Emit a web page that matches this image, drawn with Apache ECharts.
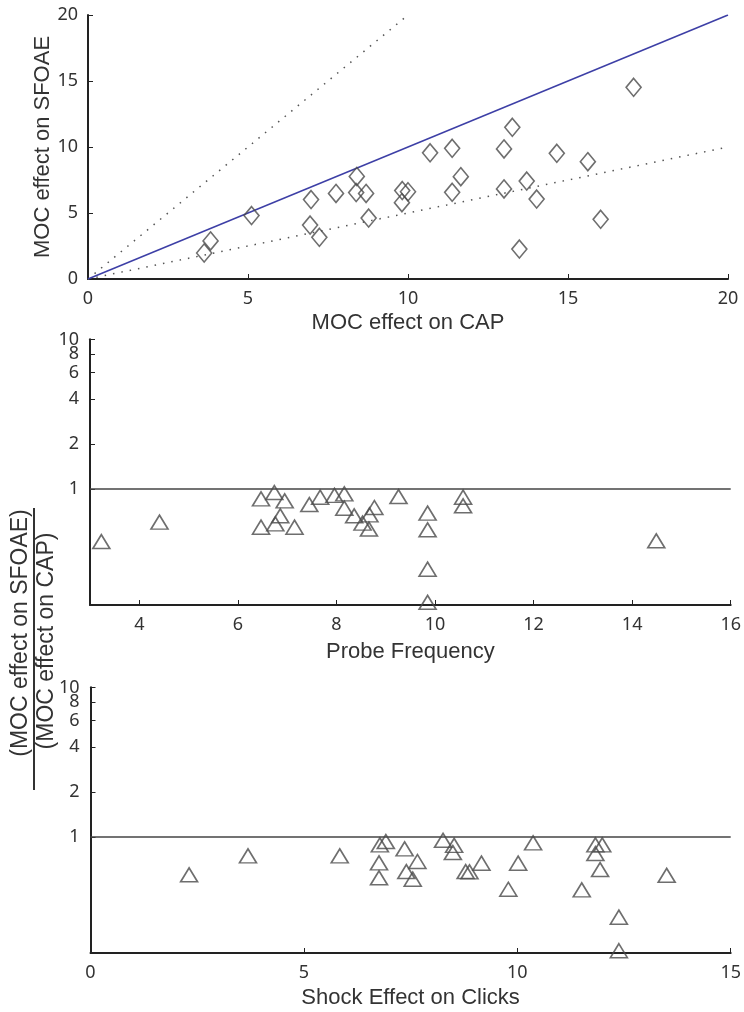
<!DOCTYPE html>
<html>
<head>
<meta charset="utf-8">
<script src="https://cdn.jsdelivr.net/npm/echarts@6/dist/echarts.min.js"></script>
<style>
  html, body { margin: 0; padding: 0; background: #fff; }
  #chart { width: 744px; height: 1012px; }
</style>
</head>
<body>
<div id="chart"></div>
<script>
// Panel A: MOC effect on CAP (x) against MOC effect on SFOAE (y), one point per ear
const capEffect = [3.63, 3.83, 5.11, 6.97, 6.94, 7.23, 7.75, 8.40, 8.38, 8.69, 8.77, 9.82, 10.0, 9.81,
  10.69, 11.38, 11.38, 11.65, 13.0, 13.26, 13.0, 13.71, 14.02, 13.48, 14.65, 15.62, 16.02, 17.05];
const sfoaeEffect = [1.97, 2.88, 4.81, 6.02, 4.09, 3.16, 6.48, 7.77, 6.55, 6.48, 4.62, 6.70, 6.61, 5.78,
  9.56, 9.90, 6.57, 7.75, 9.85, 11.49, 6.82, 7.42, 6.06, 2.27, 9.52, 8.89, 4.52, 14.52];

// Panel B: SFOAE/CAP ratio against probe frequency
const probeFreq = [3.23, 4.41, 6.47, 6.74, 6.95, 6.86, 6.47, 6.76, 7.15, 7.45, 7.67, 7.96, 8.16, 8.16,
  8.36, 8.53, 8.66, 8.67, 8.77, 9.26, 9.85, 9.85, 9.85, 9.85, 10.57, 10.57, 14.49];
const probeRatio = [0.444, 0.599, 0.857, 0.945, 0.831, 0.660, 0.554, 0.583, 0.554, 0.785, 0.880, 0.905, 0.926, 0.743,
  0.660, 0.590, 0.538, 0.670, 0.750, 0.888, 0.688, 0.532, 0.290, 0.174, 0.880, 0.770, 0.449];

// Panel C: SFOAE/CAP ratio against shock effect on clicks
const shockEffect = [2.31, 3.69, 5.84, 6.78, 6.92, 6.76, 6.76, 7.36, 7.66, 7.40, 7.55, 8.26, 8.52, 8.49,
  8.79, 8.88, 9.16, 9.79, 10.02, 10.37, 11.83, 11.99, 11.83, 11.94, 11.51, 12.38, 12.38, 13.50];
const shockRatio = [0.557, 0.746, 0.746, 0.884, 0.930, 0.670, 0.532, 0.831, 0.684, 0.586, 0.521, 0.948, 0.877, 0.785,
  0.586, 0.583, 0.667, 0.446, 0.667, 0.912, 0.884, 0.884, 0.773, 0.604, 0.442, 0.290, 0.173, 0.553];

// Reference lines in panel A: equality and factor-of-two bounds
const equalLine = [[0, 0], [20, 20]];
const doubleLine = [[0, 0], [10, 20]];
const halfLine = [[0, 0], [20, 10]];

// Tick labels
const ratioTicks = [1, 2, 4, 6, 8, 10];
const freqTicks = [4, 6, 8, 10, 12, 14, 16];
const ratioMin = 0.167;
const ratioMax = 10.03;
const unityRatio = 1;

// the top ratio label crowds the one below it, so it is drawn by a companion axis
const ratioTop = ratioTicks[ratioTicks.length - 1];
const ratioLower = ratioTicks.slice(0, -1);

const zip = (a, b) => a.map((v, i) => [v, b[i]]);

const AX = '#222';
const TICK_FONT = { fontFamily: 'Noto Sans', fontSize: 18, color: '#333' };
const NAME_FONT = { fontFamily: 'Liberation Sans', fontSize: 22, color: '#333' };

function tickStyle(values) {
  const t = { show: true, inside: true, length: 5, lineStyle: { color: AX, width: 1 } };
  if (values) t.customValues = values;
  return t;
}
function labelStyle(margin, values) {
  const l = Object.assign({ margin: margin, showMaxLabel: true, showMinLabel: true, hideOverlap: false }, TICK_FONT);
  if (values) l.customValues = values;
  return l;
}
function axisBase(extra) {
  return Object.assign({
    axisLine: { show: true, onZero: false, lineStyle: { color: AX, width: 2 } },
    axisTick: tickStyle(),
    splitLine: { show: false },
    axisLabel: labelStyle(11),
    nameMoveOverlap: false,
    nameTextStyle: NAME_FONT
  }, extra);
}
function ratioAxis(gridIndex, values, showLine) {
  return axisBase({ gridIndex: gridIndex, type: 'log', logBase: 10, min: ratioMin, max: ratioMax,
    position: 'left', offset: 0,
    axisLine: { show: showLine, onZero: false, lineStyle: { color: AX, width: 2 } },
    axisLabel: labelStyle(11, values), axisTick: tickStyle(values) });
}

const diamondStyle = { color: 'rgba(0,0,0,0)', borderColor: '#4a4a4a', borderWidth: 1.6 };
const triStyle = { color: 'rgba(0,0,0,0)', borderColor: '#4a4a4a', borderWidth: 1.6 };

const chart = echarts.init(document.getElementById('chart'), null, { renderer: 'canvas' });

chart.setOption({
  animation: false,
  backgroundColor: '#fff',
  grid: [
    { left: 88, top: 15, width: 640, height: 264 },
    { left: 90, top: 339.3, width: 641, height: 265.7 },
    { left: 90.5, top: 687.3, width: 642, height: 265.7 }
  ],
  xAxis: [
    axisBase({ gridIndex: 0, type: 'value', min: 0, max: 20, interval: 5,
      name: 'MOC effect on CAP', nameLocation: 'middle', nameGap: 33 }),
    axisBase({ gridIndex: 1, type: 'value', min: 3, max: 16,
      axisLabel: labelStyle(11, freqTicks), axisTick: tickStyle(freqTicks),
      name: 'Probe Frequency', nameLocation: 'middle', nameGap: 36 }),
    axisBase({ gridIndex: 2, type: 'value', min: 0, max: 15, interval: 5,
      name: 'Shock Effect on Clicks', nameLocation: 'middle', nameGap: 34 })
  ],
  yAxis: [
    axisBase({ gridIndex: 0, type: 'value', min: 0, max: 20, interval: 5, axisLabel: labelStyle(10),
      name: 'MOC effect on SFOAE', nameLocation: 'middle', nameGap: 34 }),
    ratioAxis(1, ratioLower, true),
    ratioAxis(2, ratioLower, true),
    ratioAxis(1, [ratioTop], false),
    ratioAxis(2, [ratioTop], false)
  ],
  series: [
    { type: 'line', xAxisIndex: 0, yAxisIndex: 0, data: doubleLine, symbol: 'none', silent: true,
      lineStyle: { color: '#555', width: 1.5, type: [1.5, 7] } },
    { type: 'line', xAxisIndex: 0, yAxisIndex: 0, data: halfLine, symbol: 'none', silent: true,
      lineStyle: { color: '#555', width: 1.5, type: [1.5, 7] } },
    { type: 'line', xAxisIndex: 0, yAxisIndex: 0, data: equalLine, symbol: 'none', silent: true,
      lineStyle: { color: '#3d3fa6', width: 1.5 } },
    { type: 'scatter', xAxisIndex: 0, yAxisIndex: 0, data: zip(capEffect, sfoaeEffect),
      symbol: 'diamond', symbolSize: [15, 18], itemStyle: diamondStyle, z: 5 },

    { type: 'line', xAxisIndex: 1, yAxisIndex: 1, data: [[3, unityRatio], [16, unityRatio]], symbol: 'none',
      silent: true, lineStyle: { color: '#444', width: 1.5 } },
    { type: 'scatter', xAxisIndex: 1, yAxisIndex: 1, data: zip(probeFreq, probeRatio),
      symbol: 'triangle', symbolSize: [17, 14], itemStyle: triStyle, z: 5 },

    { type: 'line', xAxisIndex: 2, yAxisIndex: 2, data: [[0, unityRatio], [15, unityRatio]], symbol: 'none',
      silent: true, lineStyle: { color: '#444', width: 1.5 } },
    { type: 'scatter', xAxisIndex: 2, yAxisIndex: 2, data: zip(shockEffect, shockRatio),
      symbol: 'triangle', symbolSize: [17, 14], itemStyle: triStyle, z: 5 }
  ],
  graphic: [
    {
      // shared y label for the two ratio panels, written as a fraction
      type: 'group', x: 34, y: 649, rotation: Math.PI / 2,
      children: [
        { type: 'text', x: 16, y: -2,
          style: { text: '(MOC effect on SFOAE)', align: 'center', verticalAlign: 'bottom',
            fontFamily: 'Liberation Sans', fontSize: 23, fill: '#333' } },
        { type: 'line', shape: { x1: -141, y1: 0, x2: 141, y2: 0 },
          style: { stroke: '#333', lineWidth: 2 } },
        { type: 'text', x: 8, y: 1,
          style: { text: '(MOC effect on CAP)', align: 'center', verticalAlign: 'top',
            fontFamily: 'Liberation Sans', fontSize: 23, fill: '#333' } }
      ]
    }
  ]
});
</script>
</body>
</html>
